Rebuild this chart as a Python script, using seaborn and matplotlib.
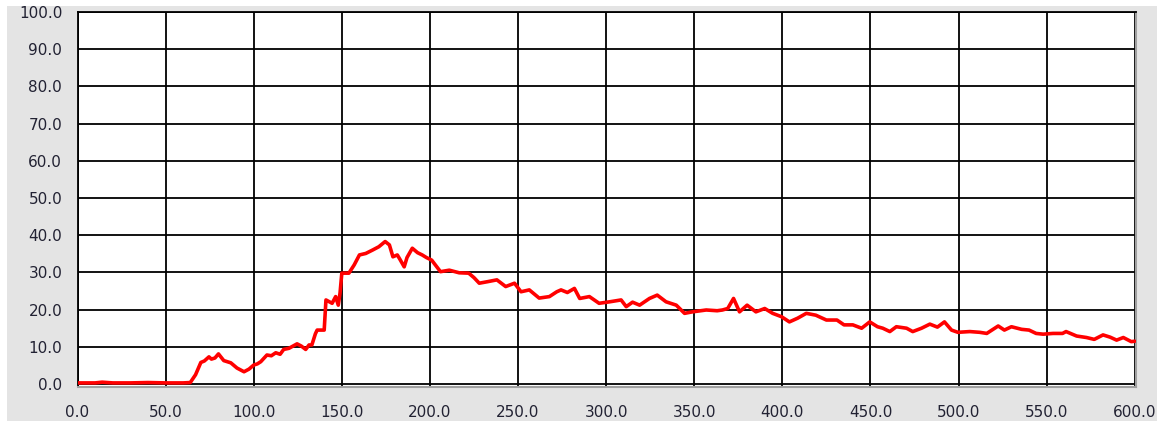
import pandas as pd
import matplotlib.pyplot as plt
import matplotlib.patches as mpatches
import seaborn as sns

# values
time_s = [0, 10, 14, 20, 30, 40, 50, 60, 64, 67, 70, 72, 74.6, 76, 78, 80, 83, 87,
          90.5, 94.5, 97.3, 100, 102, 104, 107.5, 110, 112.5, 115, 117, 120, 124.6, 127,
          129.5, 131.4, 133, 135, 136, 140, 141, 144.5, 146.5, 148, 149, 150, 154, 157,
          160, 163.6, 167.4, 171, 174.6, 177, 179, 181.5, 183, 185.4, 187, 190, 193,
          195.6, 198, 201, 206, 211, 216.6, 222, 225, 228, 232.6, 238, 243, 248, 251.7,
          256.4, 262, 267.8, 272, 274.4, 278, 282, 285, 290.5, 296, 302, 308.5, 311.4,
          315, 319, 324.6, 329, 334, 339.8, 344.5, 349, 356.8, 363, 366, 369, 372.3,
          375.7, 380, 385, 390, 394.5, 399.5, 404, 408.7, 413.6, 419, 425, 431, 435,
          440, 445, 449.6, 454, 457, 461, 464.7, 470.5, 474, 479, 483.7, 488, 492, 496,
          499.6, 506.4, 512, 516, 522.5, 526, 530, 535.8, 540, 544, 548, 553.6, 559,
          561, 567, 572.6, 577, 582, 586, 589.7, 593.5, 598, 600]
level = [0.3, 0.3, 0.5, 0.3, 0.3, 0.4, 0.3, 0.3, 0.4, 2.5, 5.8, 6.2, 7.3, 6.7, 7.0, 8.1, 6.3, 5.7,
         4.3, 3.3, 4.0, 5.1, 5.4, 6.0, 7.8, 7.6, 8.4, 8.0, 9.3, 9.6, 10.8, 10.2,
         9.3, 10.5, 10.5, 13.5, 14.5, 14.5, 22.6, 21.7, 23.5, 21.2, 24.5, 29.8, 29.8, 32.0,
         34.7, 35.1, 36.0, 36.9, 38.3, 37.4, 34.2, 34.7, 33.5, 31.5, 34.0, 36.5, 35.3,
         34.7, 34.0, 33.3, 30.2, 30.6, 29.9, 29.8, 28.6, 27.1, 27.5, 28.0, 26.2, 27.1, 24.8,
         25.3, 23.1, 23.5, 24.8, 25.3, 24.6, 25.7, 23.0, 23.5, 21.7, 22.1, 22.6, 20.8,
         22.0, 21.2, 23.0, 23.9, 22.1, 21.2, 19.0, 19.4, 19.9, 19.7, 19.9, 20.3, 23.0,
         19.4, 21.2, 19.4, 20.3, 19.0, 18.1, 16.7, 17.7, 19.0, 18.5, 17.2, 17.2, 15.9,
         15.9, 15.0, 16.7, 15.4, 15.0, 14.1, 15.4, 15.0, 14.1, 15.0, 16.1, 15.3, 16.7, 14.5,
         13.9, 14.1, 13.9, 13.6, 15.6, 14.5, 15.4, 14.7, 14.5, 13.6, 13.4, 13.6, 13.6,
         14.1, 12.9, 12.5, 12.0, 13.2, 12.6, 11.8, 12.5, 11.4, 11.5]

x_ticks = list(range(0, 601, 50))
y_ticks = list(range(0, 101, 10))

df = pd.DataFrame({"time": time_s, "level": level})

sns.set_theme(style="white")
plt.rcParams['font.family'] = ['DejaVu Sans']

fig = plt.figure(figsize=(11.63, 4.21), dpi=100)
fig.patch.set_facecolor("white")
# grey panel behind the chart
fig.patches.append(mpatches.Rectangle((7 / 1163, 0), 1150 / 1163, 415 / 421,
                                      transform=fig.transFigure, facecolor="#e4e4e4",
                                      edgecolor="none", zorder=-10))

ax = fig.add_axes([77.5 / 1163, 1 - 387 / 421, (1136 - 77.5) / 1163, (387 - 12) / 421])
ax.set_facecolor("white")

sns.lineplot(data=df, x="time", y="level", color="#ff0000", linewidth=2.6, ax=ax, zorder=3)

ax.set_xlim(0, 600.7)
ax.set_ylim(-0.8, 100)
ax.set_xticks(x_ticks)
ax.set_yticks(y_ticks)
ax.set_xticklabels([f"{v:.1f}" for v in x_ticks])
ax.set_yticklabels([f"{v:.1f}" for v in y_ticks])
ax.set_xlabel("")
ax.set_ylabel("")

ax.grid(True, color="black", linewidth=1.3)
ax.tick_params(axis="both", direction="out", length=9, width=1.3, color="black",
               labelsize=11, labelcolor="#222233", pad=2)
ax.tick_params(axis="x", pad=4)

for side in ["top", "left"]:
    ax.spines[side].set_color("black")
    ax.spines[side].set_linewidth(1.3)
for side in ["bottom", "right"]:
    ax.spines[side].set_color("#a0a0a0")
    ax.spines[side].set_linewidth(1.5)

fig.savefig("out.png", dpi=100)
